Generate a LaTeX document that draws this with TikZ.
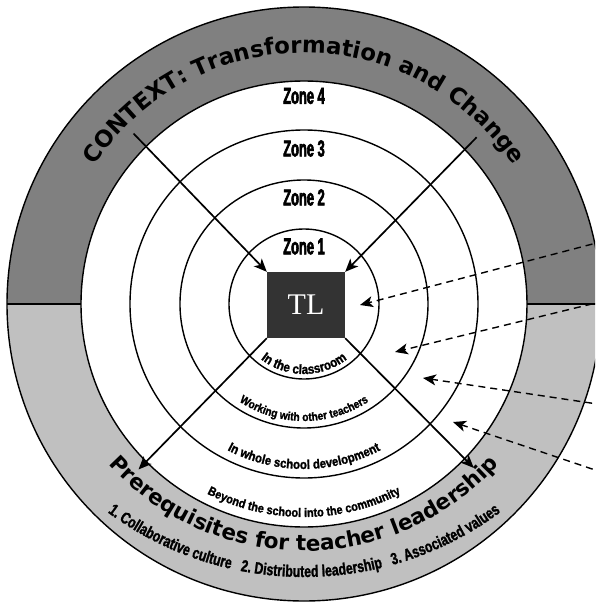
\documentclass[tikz,border=0pt]{standalone}
\usepackage{fontspec}
\setmainfont{Liberation Serif}
\newfontfamily\ctxfont{DejaVu Sans}
\newfontfamily\zonefont[FakeStretch=0.56,FakeBold=2.5]{Liberation Sans}
\newfontfamily\bandfont[FakeStretch=0.88,FakeBold=1.5]{Liberation Sans}
\newfontfamily\listfont[FakeStretch=0.75,FakeBold=1.5]{Liberation Sans}
\usetikzlibrary{arrows.meta,decorations.text}
\definecolor{ctxgray}{HTML}{808080}
\definecolor{preqgray}{HTML}{C0C0C0}
\definecolor{tlgray}{HTML}{333333}

\begin{document}
\begin{tikzpicture}[x=1pt,y=1pt,
  ring/.style={line width=1.4pt},
  zonelabel/.style={font=\zonefont\bfseries\fontsize{23}{23}\selectfont},
  tlarrow/.style={line width=1.7pt,-{Stealth[length=13pt,width=11pt,inset=3.5pt]}},
  feedarrow/.style={line width=1.4pt,dash pattern=on 7pt off 5pt,-{Stealth[length=13pt,width=11pt,inset=3.5pt]}}]
\useasboundingbox (-304,-299) rectangle (291,304);
\clip (-304,-299) rectangle (291,304);
\fill[ctxgray] (0:223) arc[start angle=0,end angle=180,radius=223] -- (180:297) arc[start angle=180,end angle=0,radius=297] -- cycle;
\fill[preqgray] (180:223) arc[start angle=180,end angle=360,radius=223] -- (0:297) arc[start angle=360,end angle=180,radius=297] -- cycle;
\draw[ring] (0,0) circle[radius=297];
\draw[ring] (0,0) circle[radius=223];
\draw[ring] (0,0) circle[radius=174];
\draw[ring] (0,0) circle[radius=124];
\draw[ring] (0,0) circle[radius=75];
\draw[ring] (180:223) -- (180:297);
\draw[ring] (0:223) -- (0:297);

\path[decorate,decoration={text along path,text align=center,
  text={|\ctxfont\bfseries\fontsize{22.8}{23}\selectfont|CONTEXT: Transformation and Change}}]
  (155:251) arc[start angle=155,end angle=25,radius=251];
\path[decorate,decoration={text along path,text align=center,
  text={|\ctxfont\bfseries\fontsize{21.5}{22}\selectfont|Prerequisites for teacher leadership}}]
  ([shift={(0,16)}]215:263) arc[start angle=215,end angle=325,radius=263];
\path[decorate,decoration={text along path,text align=center,
  text={|\listfont\bfseries\fontsize{16.4}{17}\selectfont|1. Collaborative culture{\hskip10pt}2. Distributed leadership{\hskip10pt}3. Associated values}}]
  ([shift={(0,57)}]225:330) arc[start angle=225,end angle=315,radius=330];

\path[decorate,decoration={text along path,text align=center,
  text={|\bandfont\bfseries\fontsize{13.3}{14}\selectfont|In the classroom}}]
  (200:70) arc[start angle=200,end angle=340,radius=70];
\path[decorate,decoration={text along path,text align=center,
  text={|\bandfont\bfseries\fontsize{11.6}{12}\selectfont|Working with other teachers}}]
  (210:117) arc[start angle=210,end angle=330,radius=117];
\path[decorate,decoration={text along path,text align=center,
  text={|\bandfont\bfseries\fontsize{13}{13}\selectfont|In whole school development}}]
  (215:165) arc[start angle=215,end angle=325,radius=165];
\path[decorate,decoration={text along path,text align=center,
  text={|\bandfont\bfseries\fontsize{12.4}{13}\selectfont|Beyond the school into the community}}]
  (215:213) arc[start angle=215,end angle=325,radius=213];

\node[zonelabel] (zone1) at (0,57.5) {Zone 1};
\node[zonelabel] (zone2) at (0,106.5) {Zone 2};
\node[zonelabel] (zone3) at (0,155.5) {Zone 3};
\node[zonelabel] (zone4) at (0,208) {Zone 4};
\node[fill=tlgray,minimum width=78pt,minimum height=66pt,inner sep=0pt,text=white,font=\fontsize{30}{30}\selectfont] (tl) at (2,-1) {TL};

\coordinate (outnw) at (135:241);
\coordinate (outne) at (44:240);
\coordinate (outsw) at (225:234);
\coordinate (outse) at (316:236);
\draw[tlarrow] (outnw) -- (tl.north west);
\draw[tlarrow] (outne) -- (tl.north east);
\draw[tlarrow] (tl.south west) -- (outsw);
\draw[tlarrow] (tl.south east) -- (outse);

\coordinate (feed1) at (300,63);
\coordinate (feed2) at (300,3);
\coordinate (feed3) at (300,-101);
\coordinate (feed4) at (300,-169);
\coordinate (aim1) at (56,-1);
\coordinate (aim2) at (91,-48);
\coordinate (aim3) at (119,-74);
\coordinate (aim4) at (149,-118);
\draw[feedarrow] (feed1) -- (aim1);
\draw[feedarrow] (feed2) -- (aim2);
\draw[feedarrow] (feed3) -- (aim3);
\draw[feedarrow] (feed4) -- (aim4);
\end{tikzpicture}
\end{document}
